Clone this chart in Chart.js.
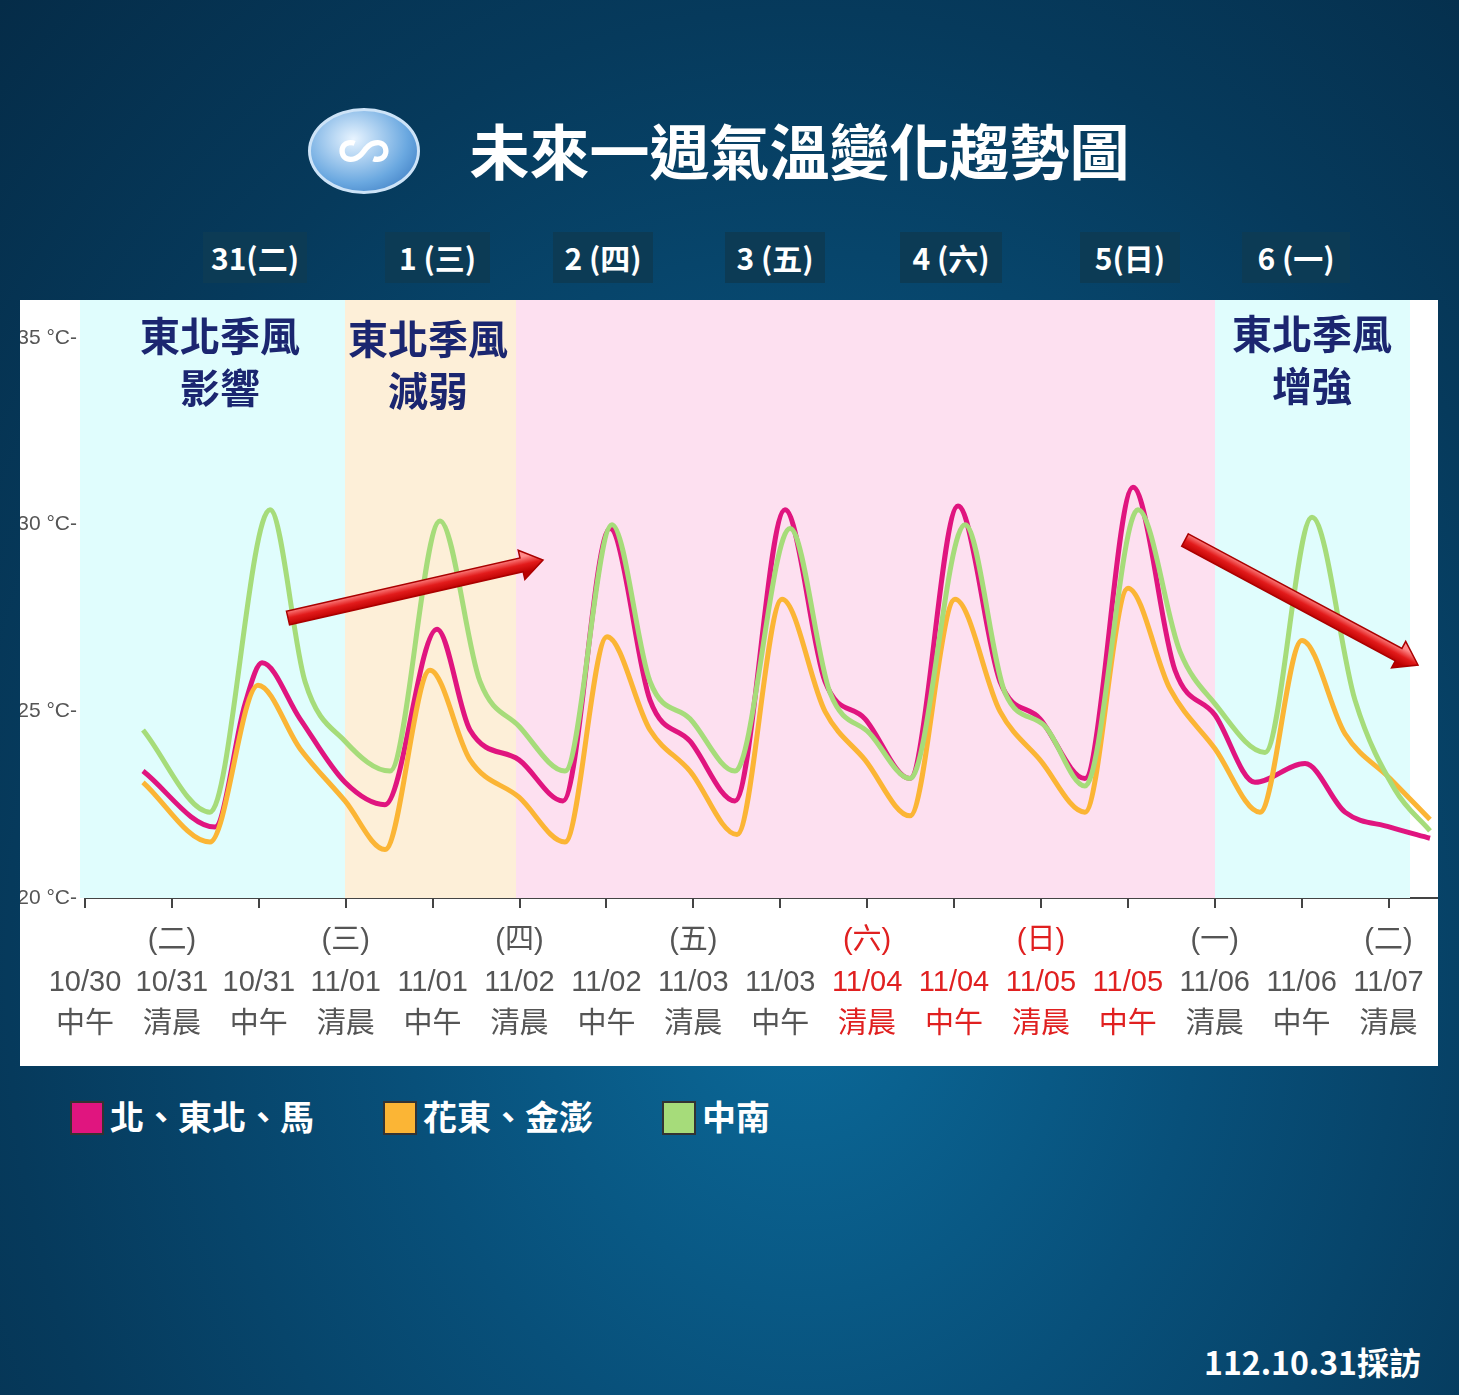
<!DOCTYPE html>
<html><head><meta charset="utf-8">
<script src="https://cdn.jsdelivr.net/npm/chart.js@4"></script>
<style>
body{margin:0;width:1459px;height:1395px;overflow:hidden;font-family:"Noto Sans CJK TC",sans-serif;
background:radial-gradient(ellipse at 55% 70%,#0b6a9a 0%,#08507a 35%,#063a5c 70%,#052c48 100%);position:relative}
.abs{position:absolute}
#title{left:0;width:1459px;top:105px;text-align:center;color:#fff;font-size:60px;font-weight:bold;padding-left:140px;box-sizing:border-box}
#logo{left:308px;top:108px;width:106px;height:80px;border-radius:50%;background:radial-gradient(ellipse at 40% 35%,#e8f4ff,#6aa8e0 60%,#2d6db8);border:3px solid #cde3f7;color:#fff;font-size:52px;text-align:center;line-height:76px;font-weight:bold}
.day{top:232px;height:51px;background:#0c3b55;color:#fff;font-weight:bold;font-size:30px;line-height:51px;text-align:center}
#panel{left:20px;top:300px;width:1418px;height:766px;background:#fff}
.note{color:#1b2670;font-weight:bold;font-size:40px;text-align:center;line-height:52px;width:240px}
.leg{top:1096px;color:#fff;font-weight:bold;font-size:34px;line-height:40px}
.leg span{display:inline-block;width:30px;height:30px;border:2px solid #333;vertical-align:-5px;margin-right:6px}
</style></head><body>
<div id="logo" class="abs">∽</div>
<div id="title" class="abs">未來一週氣溫變化趨勢圖</div>
<div class="abs day" style="left:203px;width:104px">31(二)</div>
<div class="abs day" style="left:385px;width:105px">1 (三)</div>
<div class="abs day" style="left:553px;width:100px">2 (四)</div>
<div class="abs day" style="left:725px;width:100px">3 (五)</div>
<div class="abs day" style="left:900px;width:102px">4 (六)</div>
<div class="abs day" style="left:1080px;width:100px">5(日)</div>
<div class="abs day" style="left:1242px;width:108px">6 (一)</div>
<div id="panel" class="abs"><canvas id="c" width="1418" height="766"></canvas></div>
<div class="abs note" style="left:100px;top:308px">東北季風<br>影響</div>
<div class="abs note" style="left:308px;top:311px">東北季風<br>減弱</div>
<div class="abs note" style="left:1192px;top:306px">東北季風<br>增強</div>
<div class="abs leg" style="left:70px"><span style="background:#e0157f"></span>北、東北、馬</div>
<div class="abs leg" style="left:383px"><span style="background:#fbb535"></span>花東、金澎</div>
<div class="abs leg" style="left:662px"><span style="background:#a6dc7a"></span>中南</div>
<div class="abs" style="right:38px;top:1338px;color:#fff;font-size:32px;font-weight:bold">112.10.31採訪</div>
<script>
const dateLabels=['10/30','10/31','10/31','11/01','11/01','11/02','11/02','11/03','11/03','11/04','11/04','11/05','11/05','11/06','11/06','11/07'];
const timeLabels=['中午','清晨','中午','清晨','中午','清晨','中午','清晨','中午','清晨','中午','清晨','中午','清晨','中午','清晨'];
const weekLabels=['','(二)','','(三)','','(四)','','(五)','','(六)','','(日)','','(一)','','(二)'];
const redTicks=[9,10,11,12];
// x positions in picture pixels (converted to tick index), temps in °C
const northX=[143,215,245,262,300,345,385,437,470,519,563,610,650,690,735,785,825,865,910,958,1000,1040,1085,1133,1175,1215,1255,1305,1345,1390,1430];
const northT=[23.4,21.9,25.2,26.3,24.8,23.1,22.5,27.2,24.5,23.7,22.6,29.9,25.3,24.2,22.6,30.4,25.8,24.8,23.2,30.5,25.8,24.8,23.2,31.0,26.1,24.9,23.1,23.6,22.3,21.9,21.6];
const eastX=[143,210,258,300,345,385,430,470,519,565,607,650,690,737,782,825,865,910,955,1000,1040,1085,1128,1170,1215,1260,1302,1345,1390,1430];
const eastT=[23.1,21.5,25.7,24.0,22.6,21.3,26.1,23.7,22.7,21.5,27.0,24.5,23.4,21.7,28.0,25.0,23.7,22.2,28.0,25.0,23.7,22.3,28.3,25.6,24.0,22.3,26.9,24.4,23.2,22.1];
const southX=[143,210,270,305,345,390,440,480,519,565,612,650,690,735,790,830,870,910,965,1005,1045,1085,1138,1180,1215,1265,1312,1355,1395,1430];
const southT=[24.5,22.3,30.4,25.8,24.2,23.4,30.1,25.8,24.6,23.4,30.0,25.8,24.8,23.4,29.9,25.5,24.4,23.2,30.0,25.5,24.6,23.0,30.4,26.6,25.2,23.9,30.2,25.3,22.9,21.8];
const px2i=p=>(p-85)/86.9;
const pts=(xs,ts)=>xs.map((p,i)=>({x:px2i(p),y:ts[i]}));
const bands=[[80,345,'#e0fdfd'],[345,516,'#fdefd8'],[516,1215,'#fde0f0'],[1215,1410,'#e0fdfd']];
const arrows=[[288,618,543,560],[1185,540,1418,665]];

const bg={id:'bg',beforeDatasetsDraw(ch){const c=ch.ctx,a=ch.chartArea,x=ch.scales.x;
  bands.forEach(b=>{const l=x.getPixelForValue(px2i(b[0])),r=x.getPixelForValue(px2i(b[1]));c.fillStyle=b[2];c.fillRect(l,0,r-l,a.bottom);});},
 afterDatasetsDraw(ch){const c=ch.ctx,x=ch.scales.x,y0=300;
  arrows.forEach(([x1,y1,x2,y2])=>{const X1=x.getPixelForValue(px2i(x1)),X2=x.getPixelForValue(px2i(x2)),Y1=y1-y0,Y2=y2-y0;
   const ang=Math.atan2(Y2-Y1,X2-X1),len=Math.hypot(X2-X1,Y2-Y1);
   c.save();c.translate(X1,Y1);c.rotate(ang);
   c.beginPath();c.moveTo(0,-7);c.lineTo(len-22,-7);c.lineTo(len-22,-15);c.lineTo(len,0);c.lineTo(len-22,15);c.lineTo(len-22,7);c.lineTo(0,7);c.closePath();
   const g=c.createLinearGradient(0,-8,0,8);g.addColorStop(0,'#ff8a8a');g.addColorStop(0.5,'#e21b1b');g.addColorStop(1,'#b00');
   c.fillStyle=g;c.fill();c.strokeStyle='#a00';c.lineWidth=1.5;c.stroke();c.restore();});}};

const ds=(d,col)=>({data:d,borderColor:col,borderWidth:5,pointRadius:0,tension:0.4,cubicInterpolationMode:'monotone',fill:false});
new Chart(document.getElementById('c'),{type:'line',
 data:{datasets:[ds(pts(southX,southT),'#a6dc7a'),ds(pts(eastX,eastT),'#fbb535'),ds(pts(northX,northT),'#e0157f')]},
 options:{responsive:false,animation:false,events:[],
  layout:{padding:{top:38,right:0,bottom:6,left:0}},
  plugins:{legend:{display:false},tooltip:{enabled:false}},
  scales:{
   x:{type:'linear',min:0,max:px2i(1438),afterFit(s){s.height=162;},
    afterBuildTicks(s){s.ticks=dateLabels.map((_,i)=>({value:i}));},
    grid:{drawOnChartArea:false,drawTicks:true,tickLength:10,color:'#444',lineWidth:2},border:{color:'#444',width:2},
    ticks:{autoSkip:false,maxRotation:0,padding:12,color:c=>redTicks.includes(c.index)?'#e02020':'#555',
     font:{family:'"Liberation Sans","Noto Sans CJK TC"',size:29,lineHeight:1.45},
     callback:(v,i)=>[weekLabels[i]||' ',dateLabels[i],timeLabels[i]]}},
   y:{min:20,max:35,afterFit(s){s.width=65;},grid:{display:false},border:{color:'#444',width:2},
    afterBuildTicks(s){s.ticks=[20,25,30,35].map(v=>({value:v}));},
    ticks:{color:'#555',padding:0,font:{family:'"Liberation Sans"',size:21},callback:v=>v+' °C-'}}}},
 plugins:[bg]});
</script></body></html>
